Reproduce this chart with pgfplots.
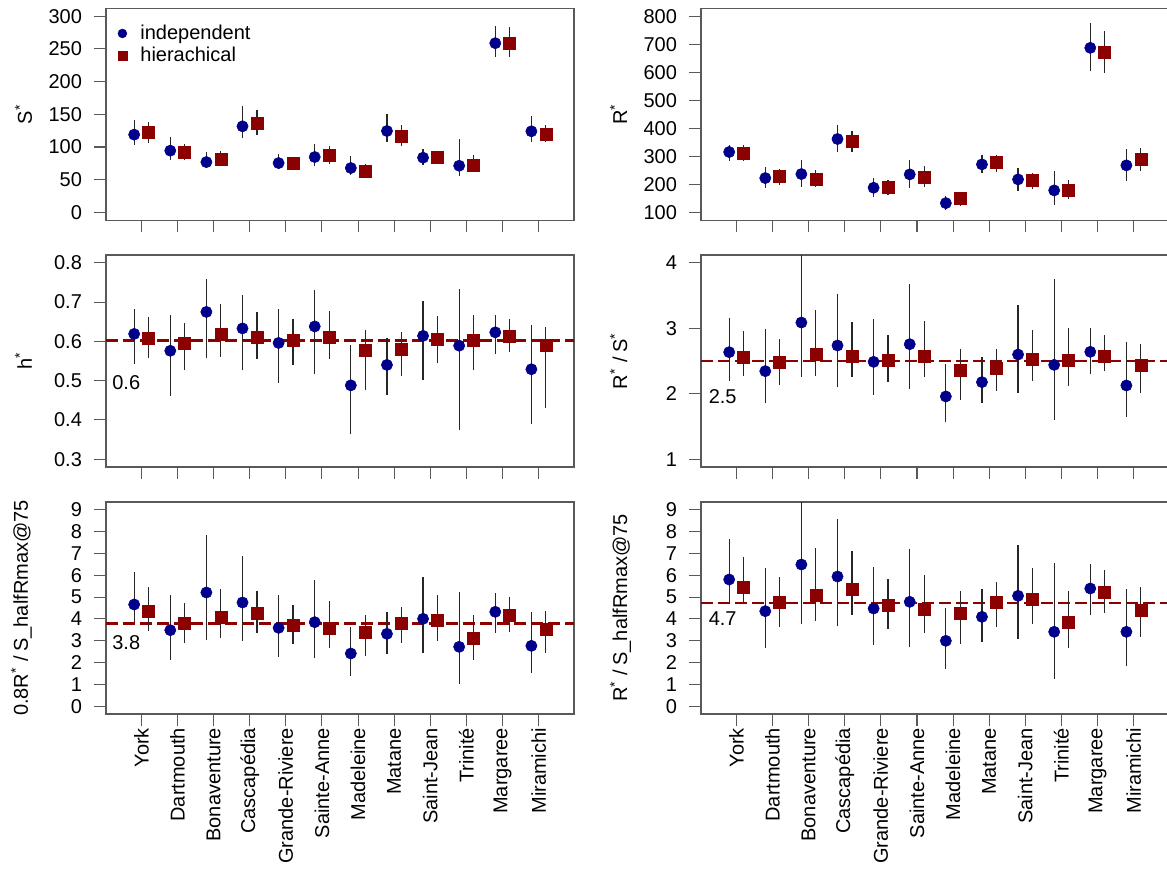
\documentclass[border=0pt]{standalone}
\usepackage{fontspec}
\setmainfont{Liberation Sans}
\usepackage{pgfplots}
\pgfplotsset{compat=1.18}
\usepackage{pgfplotstable}
\definecolor{indc}{RGB}{0,0,139}
\definecolor{hiec}{RGB}{139,0,0}
\newcommand{\lbl}{\fontsize{10}{12}\selectfont}

\pgfplotstableread{
i ind indlo indhi hie hielo hiehi
1 118.9 103.6 141.8 121.9 106.1 137.8
2 94.4 80.6 114.8 92.3 80.6 104.0
3 77.0 67.9 91.8 81.6 71.4 94.4
4 131.6 113.3 162.2 136.2 118.9 157.1
5 75.5 66.3 89.3 75.5 67.3 85.2
6 84.7 70.4 105.1 87.2 74.5 102.0
7 67.9 57.7 85.7 63.3 56.1 73.5
8 124.5 108.2 150.5 116.3 102.0 134.2
9 83.7 71.9 96.9 83.7 74.5 93.4
10 71.4 56.1 112.2 71.4 61.2 87.8
11 258.7 237.2 285.7 258.7 237.0 283.0
12 124.0 108.2 146.9 119.9 107.1 134.2
}\tabS

\pgfplotstableread{
i ind indlo indhi hie hielo hiehi
1 315.5 284.5 341.7 311.9 282.1 341.7
2 222.6 186.9 260.7 227.4 198.8 254.8
3 236.9 191.7 288.1 217.9 191.7 252.4
4 361.9 314.3 413.1 353.6 314.3 391.7
5 188.1 154.8 222.6 189.3 163.1 216.7
6 235.7 188.1 288.1 226.2 190.5 264.3
7 133.3 108.3 157.1 148.8 122.6 167.9
8 271.4 240.5 304.8 277.4 245.2 306.0
9 217.9 177.4 258.3 213.1 184.5 240.5
10 178.6 127.4 246.4 179.8 147.6 216.7
11 686.9 603.6 776.2 671.4 597.6 748.8
12 267.9 210.7 326.2 289.3 246.4 329.8
}\tabR

\pgfplotstableread{
i ind indlo indhi hie hielo hiehi
1 0.619 0.542 0.683 0.608 0.557 0.662
2 0.576 0.462 0.666 0.596 0.528 0.647
3 0.675 0.557 0.759 0.617 0.561 0.696
4 0.633 0.526 0.717 0.610 0.556 0.676
5 0.596 0.493 0.683 0.602 0.539 0.656
6 0.638 0.518 0.730 0.611 0.556 0.678
7 0.488 0.363 0.592 0.577 0.477 0.628
8 0.540 0.464 0.608 0.581 0.513 0.624
9 0.614 0.502 0.703 0.605 0.544 0.665
10 0.589 0.373 0.734 0.602 0.527 0.666
11 0.623 0.567 0.666 0.613 0.574 0.656
12 0.529 0.390 0.641 0.589 0.431 0.637
}\tabH

\pgfplotstableread{
i ind indlo indhi hie hielo hiehi
1 2.635 2.192 3.155 2.559 2.268 2.956
2 2.345 1.861 2.992 2.482 2.131 2.839
3 3.088 2.258 4.300 2.610 2.278 3.277
4 2.737 2.105 3.526 2.574 2.258 3.093
5 2.487 1.978 3.144 2.508 2.182 2.890
6 2.757 2.075 3.679 2.579 2.258 3.119
7 1.958 1.565 2.457 2.355 1.907 2.676
8 2.177 1.856 2.559 2.390 2.049 2.676
9 2.599 2.008 3.358 2.533 2.192 2.981
10 2.441 1.591 3.756 2.513 2.115 3.007
11 2.640 2.309 2.997 2.574 2.345 2.905
12 2.126 1.642 2.783 2.431 2.008 2.762
}\tabRS

\pgfplotstableread{
i ind indlo indhi hie hielo hiehi
1 4.661 3.836 6.143 4.355 3.454 5.486
2 3.484 2.124 5.089 3.820 2.888 4.752
3 5.211 3.041 7.839 4.080 3.133 5.394
4 4.752 2.965 6.892 4.279 3.347 5.287
5 3.591 2.246 5.089 3.729 2.842 4.630
6 3.851 2.216 5.776 3.560 2.674 4.829
7 2.414 1.360 3.622 3.392 2.307 4.172
8 3.316 2.369 4.325 3.805 2.888 4.569
9 4.004 2.460 5.899 3.927 2.995 5.089
10 2.720 1.009 5.241 3.102 2.124 4.172
11 4.324 3.347 5.196 4.172 3.408 4.982
12 2.766 1.528 4.325 3.530 2.460 4.370
}\tabA

\pgfplotstableread{
i ind indlo indhi hie hielo hiehi
1 5.807 4.676 7.656 5.440 4.752 6.846
2 4.355 2.659 6.357 4.783 3.637 5.944
3 6.494 3.759 9.600 5.089 3.912 7.274
4 5.944 3.683 8.603 5.348 4.172 7.121
5 4.477 2.812 6.403 4.645 3.530 5.822
6 4.783 2.735 7.197 4.447 3.347 6.005
7 2.995 1.696 4.523 4.248 2.842 5.257
8 4.095 2.949 5.394 4.783 3.652 5.715
9 5.058 3.072 7.381 4.905 3.759 6.357
10 3.408 1.238 6.556 3.866 2.644 5.257
11 5.394 4.172 6.510 5.211 4.294 6.235
12 3.408 1.849 5.394 4.416 3.148 5.486
}\tabB

\pgfplotsset{
  rpanel/.style={
    scale only axis, width=234pt, height=106pt, anchor=north west,
    xmin=0.02, xmax=12.98, xtick={1,...,12}, xticklabels={},
    axis line style={black!65, line width=0.55pt},
    tick style={black!65, line width=0.55pt},
    tick align=outside, major tick length=6pt,
    xtick pos=left, ytick pos=left,
    tick label style={font=\lbl, black},
    label style={font=\lbl},
    yticklabel shift=2.5pt,
    /pgf/number format/assume math mode=true,
    ylabel style={at={([xshift=-37pt]axis description cs:0,0.5)}, anchor=base},
  },
  bottomlabels/.style={
    xticklabels={York,Dartmouth,Bonaventure,Cascapédia,Grande-Riviere,Sainte-Anne,Madeleine,Matane,Saint-Jean,Trinité,Margaree,Miramichi},
    xticklabel style={rotate=90, anchor=east},
    xticklabel shift=-2.5pt,
  },
  indst/.style={only marks, mark=*, mark size=2.8pt, color=indc, mark options={draw=indc, fill=indc, line width=0.3pt}},
  hiest/.style={only marks, mark=square*, mark size=3pt, color=hiec, mark options={draw=hiec, fill=hiec, line width=0.3pt}},
  refline/.style={hiec, line width=1.25pt, dash pattern=on 6pt off 2.5pt, forget plot},
}

\newcommand{\ebars}[5]{%
  \addplot[forget plot, draw=none, mark=none,
    error bars/.cd, y dir=both, y explicit, error mark=none,
    error bar style={draw=black!85, solid, line width=0.6pt}]
    table[x expr=\thisrow{i}+(#5), y=#2,
      y error plus expr=\thisrow{#4}-\thisrow{#2},
      y error minus expr=\thisrow{#2}-\thisrow{#3}] {#1};
}

\newcommand{\panel}[1]{%
  \addplot[indst] table[x expr=\thisrow{i}-0.2, y=ind] {#1};
  \addplot[hiest] table[x expr=\thisrow{i}+0.2, y=hie] {#1};
  \ebars{#1}{ind}{indlo}{indhi}{-0.2}
  \ebars{#1}{hie}{hielo}{hiehi}{0.2}
}

\begin{document}
\begin{tikzpicture}
% Row 1 left
\begin{axis}[rpanel, at={(53pt,-4.15pt)},
  ymin=-12, ymax=312, ytick={0,50,...,300},
  ylabel={S\textsuperscript{*}},
  legend style={at={(axis description cs:0,1)}, anchor=north west, draw=none, fill=none,
    font=\lbl, xshift=2pt, yshift=-6pt, row sep=-1.5pt, inner sep=0pt},
  legend cell align=left,
  legend image code/.code={\path[draw=none] (0pt,0pt) -- (13pt,0pt); \draw[#1, mark size=2.2pt] plot coordinates {(6pt,0pt)};},
]
\panel{\tabS}
\legend{independent, hierachical}
\end{axis}
% Row 1 right
\begin{axis}[rpanel, at={(350.5pt,-4.15pt)},
  ymin=72, ymax=828, ytick={100,200,...,800},
  ylabel={R\textsuperscript{*}},
]
\panel{\tabR}
\end{axis}
% Row 2 left
\begin{axis}[rpanel, at={(53pt,-127.5pt)},
  ymin=0.28, ymax=0.82, ytick={0.3,0.4,0.5,0.6,0.7,0.8},
  yticklabel style={/pgf/number format/fixed, /pgf/number format/precision=1},
  ylabel={h\textsuperscript{*}},
]
\addplot[refline] coordinates {(0.02,0.602) (12.98,0.602)};
\panel{\tabH}
\node[font=\lbl] at (axis cs:0.58,0.494) {0.6};
\end{axis}
% Row 2 right
\begin{axis}[rpanel, at={(350.5pt,-127.5pt)},
  ymin=0.88, ymax=4.12, ytick={1,2,3,4},
  ylabel={R\textsuperscript{*}\hspace{0.3em}/\hspace{0.2em}S\textsuperscript{*}},
]
\addplot[refline] coordinates {(0.02,2.497) (12.98,2.497)};
\panel{\tabRS}
\node[font=\lbl] at (axis cs:0.62,1.958) {2.5};
\end{axis}
% Row 3 left
\begin{axis}[rpanel, bottomlabels, at={(53pt,-251pt)},
  ymin=-0.36, ymax=9.36, ytick={0,1,...,9},
  ylabel={0.8R\textsuperscript{*}\hspace{0.3em}/\hspace{0.2em}S\_halfRmax@75},
  ylabel style={at={([xshift=-39pt]axis description cs:0,0.5)}},
]
\addplot[refline] coordinates {(0.02,3.79) (12.98,3.79)};
\panel{\tabA}
\node[font=\lbl] at (axis cs:0.58,2.92) {3.8};
\end{axis}
% Row 3 right
\begin{axis}[rpanel, bottomlabels, at={(350.5pt,-251pt)},
  ymin=-0.36, ymax=9.36, ytick={0,1,...,9},
  ylabel={R\textsuperscript{*}\hspace{0.3em}/\hspace{0.2em}S\_halfRmax@75},
]
\addplot[refline] coordinates {(0.02,4.735) (12.98,4.735)};
\panel{\tabB}
\node[font=\lbl] at (axis cs:0.62,4.0) {4.7};
\end{axis}
\pgfresetboundingbox
\useasboundingbox (0,0) rectangle (583.5pt,-436pt);
\end{tikzpicture}
\end{document}
